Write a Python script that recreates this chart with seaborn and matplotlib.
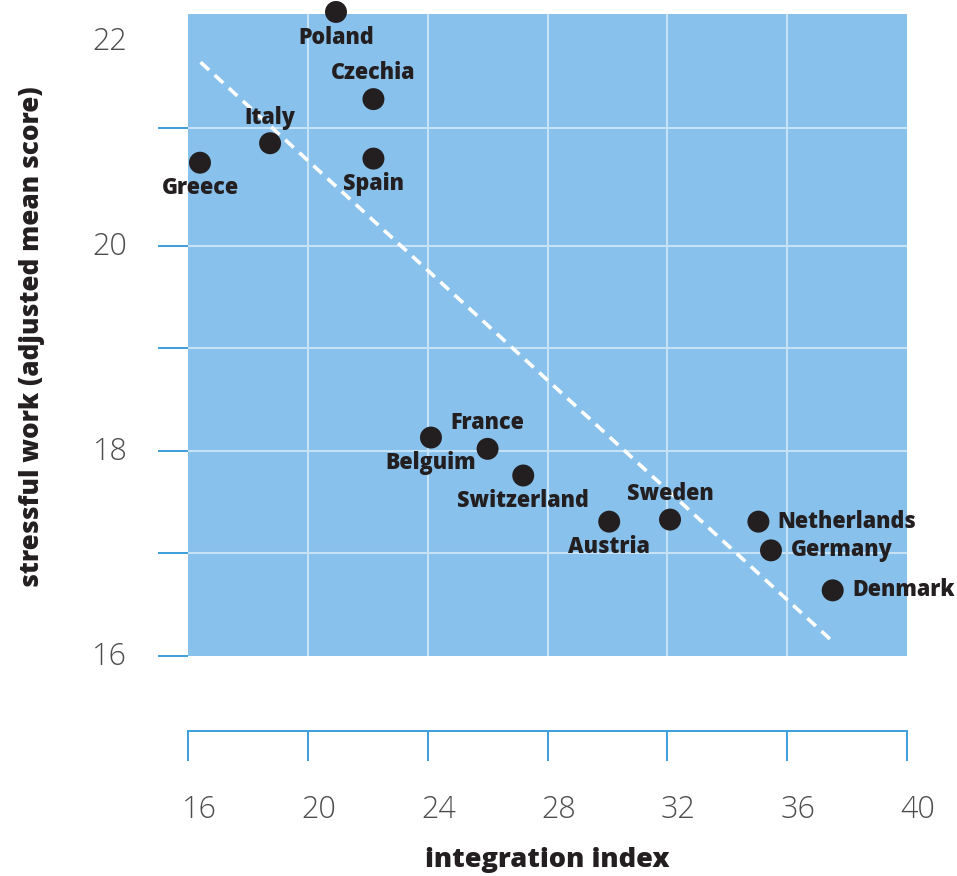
import matplotlib
matplotlib.use('Agg')
import matplotlib.pyplot as plt
import matplotlib.transforms as mtransforms
import seaborn as sns
import pandas as pd

# values
countries = ['Poland', 'Czechia', 'Italy', 'Greece', 'Spain', 'Belguim', 'France',
             'Switzerland', 'Austria', 'Sweden', 'Netherlands', 'Germany', 'Denmark']
integration = [20.94, 22.19, 18.74, 16.40, 22.19, 24.11, 26.00,
               27.19, 30.06, 32.09, 35.04, 35.46, 37.52]
stress = [22.28, 21.43, 21.00, 20.81, 20.85, 18.13, 18.02,
          17.76, 17.31, 17.33, 17.31, 17.03, 16.64]
label_side = ['below', 'above', 'above', 'below', 'below', 'below', 'above',
              'below', 'below', 'above', 'right', 'right', 'right']

# dashed trend line end points
fit_x = [16.42, 37.60]
fit_y = [21.79, 16.12]

x_ticks = [16, 20, 24, 28, 32, 36, 40]
y_major = [16, 18, 20, 22]
y_minor = [17, 19, 21.15]

df = pd.DataFrame({'country': countries, 'integration': integration, 'stress': stress})

sns.set_style('white')
plt.rcParams['font.family'] = ['Open Sans', 'DejaVu Sans']

blue_bg = '#88c1eb'
tick_blue = '#3d9fd9'
grid_col = '#c6e2f7'
dark = '#231f20'

fig = plt.figure(figsize=(9.57, 8.76), dpi=100)
ax = fig.add_axes([188/957, 220/876, 719/957, 642/876])
ax.set_facecolor(blue_bg)

sns.scatterplot(data=df, x='integration', y='stress', s=250, color=dark,
                edgecolor='none', ax=ax, clip_on=False, zorder=4)
ax.plot(fit_x, fit_y, color='white', lw=2.6, ls=(0, (3.2, 2.1)), zorder=3)

offsets = {'above': (0, 18.5, 'center'), 'below': (0, -18.5, 'center'),
           'right': (14, 0, 'left')}
for name, xv, yv, side in zip(countries, integration, stress, label_side):
    dx, dy, ha = offsets[side]
    ax.annotate(name, (xv, yv), xytext=(dx, dy), textcoords='offset points',
                ha=ha, va='center', fontsize=15.5, fontweight=800, color=dark,
                zorder=5, annotation_clip=False)

ax.set_xlim(16, 40)
ax.set_ylim(16, 22.26)
ax.set_xticks(x_ticks)
ax.set_xticklabels([str(t) for t in x_ticks])
ax.set_yticks(y_major)
ax.set_yticklabels([str(t) for t in y_major])
ax.set_yticks(y_minor, minor=True)

ax.grid(True, which='both', color=grid_col, lw=1.5, zorder=1)
ax.set_axisbelow(True)

for s in ['top', 'right', 'left']:
    ax.spines[s].set_visible(False)
ax.spines['bottom'].set_position(('outward', 54))
ax.spines['bottom'].set_color(tick_blue)
ax.spines['bottom'].set_linewidth(1.4)

ax.tick_params(axis='y', which='both', left=True, length=21.6, width=1.4,
               color=tick_blue, direction='out', pad=22)
ax.tick_params(axis='y', labelsize=22, labelcolor='#4d4d4d')
ax.tick_params(axis='x', bottom=True, length=21.6, width=1.4, color=tick_blue,
               direction='out', pad=24, labelsize=22, labelcolor='#4d4d4d')

# no tick mark or grid line at 22, no grid lines on the frame edges
top_tick = ax.yaxis.get_major_ticks()[-1]
top_tick.tick1line.set_visible(False)
top_tick.gridline.set_visible(False)
ax.xaxis.get_major_ticks()[0].gridline.set_visible(False)
ax.xaxis.get_major_ticks()[-1].gridline.set_visible(False)
ax.yaxis.get_major_ticks()[0].gridline.set_visible(False)

for lab in ax.get_xticklabels() + ax.get_yticklabels():
    lab.set_fontweight('light')

shift_x = mtransforms.ScaledTranslation(0.11, 0, fig.dpi_scale_trans)
for lab in ax.get_xticklabels():
    lab.set_transform(lab.get_transform() + shift_x)
shift_y = mtransforms.ScaledTranslation(0, 0.03, fig.dpi_scale_trans)
for lab in ax.get_yticklabels():
    lab.set_transform(lab.get_transform() + shift_y)

ax.set_xlabel('integration index', fontsize=19.6, fontweight=800, color=dark)
ax.set_ylabel('stressful work (adjusted mean score)', fontsize=18.8,
              fontweight=800, color=dark)
ax.xaxis.set_label_coords(0.5, -0.318)
ax.xaxis.label.set_va('center')
ax.yaxis.set_label_coords(-0.217, 0.498)
ax.yaxis.label.set_va('center')

fig.savefig('out.png', dpi=100)
